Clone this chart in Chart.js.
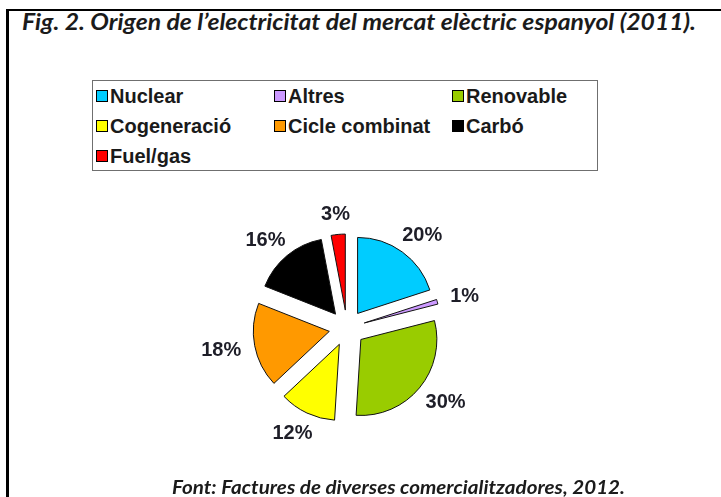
<!DOCTYPE html>
<html>
<head>
<meta charset="utf-8">
<script src="https://cdn.jsdelivr.net/npm/chart.js@4.4.1/dist/chart.umd.min.js"></script>
<style>
  html, body { margin: 0; padding: 0; background: #fff; }
  body { width: 721px; height: 497px; position: relative; overflow: hidden; }
  .frame { position: absolute; left: 6px; top: 9px; width: 760px; height: 520px;
           border-left: 3px solid #000; border-top: 2px solid #000; }
  .title, .source { position: absolute; white-space: nowrap; color: #1b1b1b;
           font-family: Lato, "Open Sans", sans-serif; font-weight: bold; font-style: italic;
           line-height: 1; transform-origin: 0 0; }
  .title { left: 22px; top: 11px; font-size: 22px; }
  .source { left: 172px; top: 477px; font-size: 19px; }
  .legend { position: absolute; left: 92px; top: 80px; width: 504px; height: 89px;
            border: 1px solid #6f6f6f; }
  .item { position: absolute; height: 20px; display: flex; align-items: center;
          font-family: "Liberation Sans", Arial, sans-serif; font-weight: bold;
          font-size: 20px; color: #1a1a1a; white-space: nowrap; }
  .item i { display: inline-block; width: 10px; height: 10px; border: 1px solid #000;
            margin-right: 2px; }
  #pie { position: absolute; left: 197px; top: 178px; }
</style>
</head>
<body>
<div class="frame"></div>
<div class="title" id="title">Fig. 2. Origen de l’electricitat del mercat elèctric espanyol (2011).</div>
<div class="legend" id="legend"></div>
<canvas id="pie" width="300" height="300"></canvas>
<div class="source" id="source">Font: Factures de diverses comercialitzadores, 2012.</div>

<script>
// categories and shares (%) as printed on the chart
const categories = ["Nuclear", "Altres", "Renovable", "Cogeneració", "Cicle combinat", "Carbó", "Fuel/gas"];
const shares = [20, 1, 30, 12, 18, 16, 3];
const colours = ["#00ccff", "#cc99ff", "#99cc00", "#ffff00", "#ff9900", "#000000", "#ff0000"];

// legend order in the picture (3 columns)
const legendOrder = ["Nuclear", "Altres", "Renovable", "Cogeneració", "Cicle combinat", "Carbó", "Fuel/gas"];

// squeeze title / source text to the width they have in the picture
function fitWidth(id, target) {
  const el = document.getElementById(id);
  const w = el.getBoundingClientRect().width;
  el.style.transform = "scaleX(" + (target / w) + ")";
}
fitWidth("title", 674);
fitWidth("source", 453);

// legend box
const legend = document.getElementById("legend");
legendOrder.forEach((name, k) => {
  const idx = categories.indexOf(name);
  const item = document.createElement("div");
  item.className = "item";
  item.style.left = (3 + (k % 3) * 178) + "px";
  item.style.top = (5 + Math.floor(k / 3) * 30) + "px";
  item.innerHTML = '<i style="background:' + colours[idx] + '"></i>' + name;
  legend.appendChild(item);
});

// pull every slice out by the same distance (Chart.js "offset" also grows thin slices)
const explode = {
  id: "explode",
  beforeDatasetDraw(chart, args, opts) {
    const ctx = chart.ctx;
    args.meta.data.forEach(arc => {
      const mid = (arc.startAngle + arc.endAngle) / 2;
      ctx.save();
      ctx.translate(Math.cos(mid) * opts.distance, Math.sin(mid) * opts.distance);
      arc.draw(ctx);
      ctx.restore();
    });
    return false;
  }
};

// percentage labels just outside each slice
const outsideLabels = {
  id: "outsideLabels",
  afterDatasetsDraw(chart) {
    const ctx = chart.ctx;
    const meta = chart.getDatasetMeta(0);
    const ds = chart.data.datasets[0];
    const dist = chart.options.plugins.explode.distance;
    ctx.save();
    ctx.font = "bold 20px 'Liberation Sans', Arial, sans-serif";
    ctx.fillStyle = "#1e1e28";
    ctx.textAlign = "center";
    ctx.textBaseline = "middle";
    meta.data.forEach((arc, i) => {
      const p = arc.getProps(["x", "y", "startAngle", "endAngle", "outerRadius"], true);
      const mid = (p.startAngle + p.endAngle) / 2;
      const dx = Math.cos(mid), dy = Math.sin(mid);
      const text = ds.data[i] + "%";
      const w = ctx.measureText(text).width;
      const r = p.outerRadius + dist + 14;
      const x = p.x + dx * r + dx * w / 2;
      const y = p.y + dy * r + dy * 7.5;
      ctx.fillText(text, x, y + 1);
    });
    ctx.restore();
  }
};

new Chart(document.getElementById("pie"), {
  type: "pie",
  data: {
    labels: categories,
    datasets: [{
      data: shares,
      backgroundColor: colours,
      borderColor: "#111",
      borderWidth: 1
    }]
  },
  options: {
    responsive: false,
    animation: false,
    radius: 76,
    layout: { padding: 0 },
    plugins: {
      legend: { display: false },
      tooltip: { enabled: false },
      explode: { distance: 18 }
    }
  },
  plugins: [explode, outsideLabels]
});
</script>
</body>
</html>
